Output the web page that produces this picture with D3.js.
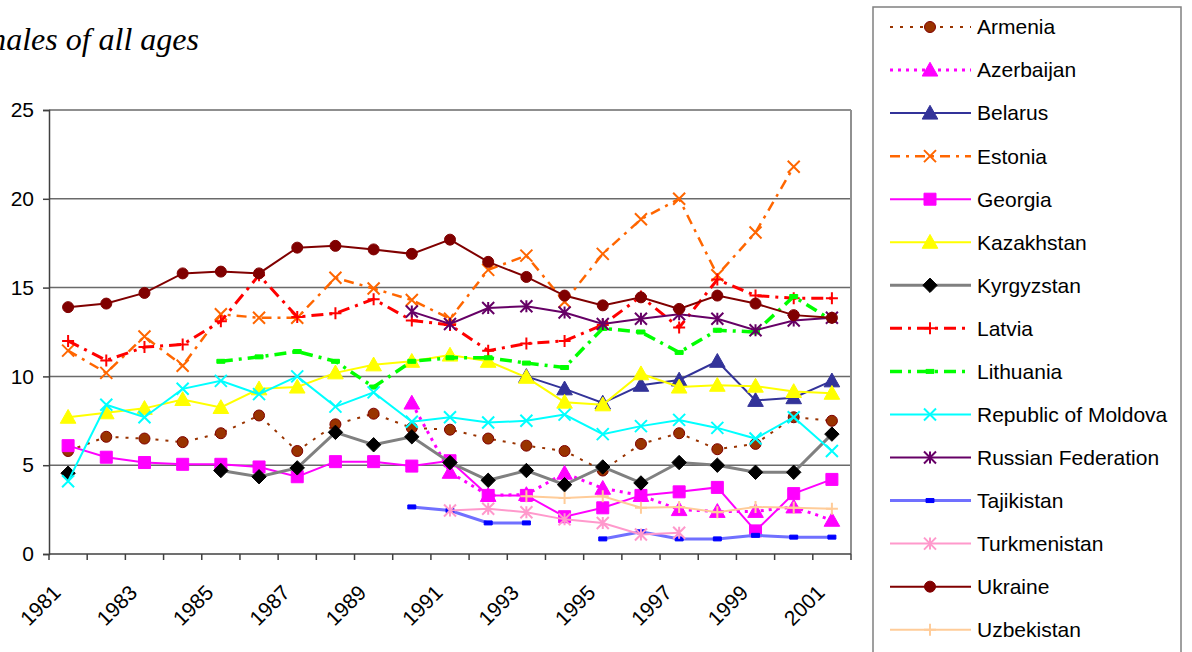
<!DOCTYPE html>
<html>
<head>
<meta charset="utf-8">
<script src="https://cdn.jsdelivr.net/npm/d3@7"></script>
<style>
  body { margin: 0; background: #fff; }
  svg { display: block; }
</style>
</head>
<body>
<script>
const width = 1192;
const height = 652;

// Years along the x axis, and the labelled ones.
const years = d3.range(1981, 2002);
const yearLabels = [1981, 1983, 1985, 1987, 1989, 1991, 1993, 1995, 1997, 1999, 2001];
const yTicks = [0, 5, 10, 15, 20, 25];

// Values per country, 1981..2001 (null = no data).
const armenia = [5.8, 6.6, 6.5, 6.3, 6.8, 7.8, 5.8, 7.3, 7.9, 7.1, 7.0, 6.5, 6.1, 5.8, 4.7, 6.2, 6.8, 5.9, 6.2, 7.7, 7.5];
const azerbaijan = [null, null, null, null, null, null, null, null, null, 8.5, 4.6, 3.3, 3.35, 4.55, 3.7, 3.3, 2.5, 2.4, 2.4, 2.65, 1.9];
const belarus = [null, null, null, null, null, null, null, null, null, null, null, null, 10.0, 9.3, 8.5, 9.5, 9.8, 10.85, 8.65, 8.8, 9.75];
const estonia = [11.45, 10.2, 12.25, 10.6, 13.5, 13.3, 13.3, 15.55, 14.95, 14.3, 13.25, 16.0, 16.8, 14.2, 16.9, 18.85, 20.0, 15.7, 18.1, 21.8, null];
const georgia = [6.1, 5.45, 5.15, 5.05, 5.05, 4.9, 4.35, 5.2, 5.2, 4.95, 5.25, 3.3, 3.3, 2.1, 2.6, 3.3, 3.5, 3.75, 1.3, 3.4, 4.2];
const kazakhstan = [7.7, 7.95, 8.2, 8.7, 8.25, 9.3, 9.4, 10.2, 10.65, 10.85, 11.2, 10.85, 9.95, 8.55, 8.4, 10.15, 9.4, 9.5, 9.45, 9.15, 9.05];
const kyrgyzstan = [4.55, null, null, null, 4.7, 4.35, 4.85, 6.85, 6.15, 6.6, 5.15, 4.15, 4.7, 3.9, 4.9, 4.0, 5.15, 5.0, 4.6, 4.6, 6.75];
const latvia = [12.0, 10.9, 11.65, 11.8, 13.1, 15.7, 13.35, 13.55, 14.35, 13.15, 12.9, 11.45, 11.85, 12.0, 12.9, 14.5, 12.75, 15.45, 14.55, 14.4, 14.4];
const lithuania = [null, null, null, null, 10.85, 11.1, 11.4, 10.85, 9.4, 10.85, 11.05, 11.05, 10.75, 10.5, 12.7, 12.5, 11.35, 12.6, 12.5, 14.5, 13.15];
const moldova = [4.1, 8.4, 7.7, 9.3, 9.75, 9.0, 10.0, 8.3, 9.1, 7.45, 7.7, 7.4, 7.5, 7.85, 6.75, 7.2, 7.55, 7.1, 6.5, 7.7, 5.8];
const russia = [null, null, null, null, null, null, null, null, null, 13.65, 12.95, 13.85, 13.95, 13.6, 12.95, 13.25, 13.5, 13.25, 12.6, 13.15, 13.3];
const tajikistan = [null, null, null, null, null, null, null, null, null, 2.65, 2.45, 1.75, 1.75, null, 0.85, 1.25, 0.85, 0.85, 1.05, 0.95, 0.95];
const turkmenistan = [null, null, null, null, null, null, null, null, null, null, 2.45, 2.55, 2.35, 1.95, 1.75, 1.1, 1.2, null, null, null, null];
const ukraine = [13.9, 14.1, 14.7, 15.8, 15.9, 15.8, 17.25, 17.35, 17.15, 16.9, 17.7, 16.45, 15.6, 14.55, 14.0, 14.45, 13.8, 14.55, 14.1, 13.45, 13.3];
const uzbekistan = [null, null, null, null, null, null, null, null, null, null, null, null, 3.25, 3.15, 3.25, 2.6, 2.65, 2.35, 2.65, 2.6, 2.55];

const countries = ['Armenia', 'Azerbaijan', 'Belarus', 'Estonia', 'Georgia', 'Kazakhstan', 'Kyrgyzstan', 'Latvia',
  'Lithuania', 'Republic of Moldova', 'Russian Federation', 'Tajikistan', 'Turkmenistan', 'Ukraine', 'Uzbekistan'];
const values = [armenia, azerbaijan, belarus, estonia, georgia, kazakhstan, kyrgyzstan, latvia,
  lithuania, moldova, russia, tajikistan, turkmenistan, ukraine, uzbekistan];

// Styles per series (line colour, dash, width, marker).
const styles = [
  { line: '#993300', dash: '3,7', w: 2, marker: 'circle', fill: '#993300', stroke: '#800000' },
  { line: '#ff00ff', dash: '3,5', w: 3, marker: 'triangle', fill: '#ff00ff', stroke: '#ff00ff' },
  { line: '#333399', dash: null, w: 2, marker: 'triangle', fill: '#333399', stroke: '#333399' },
  { line: '#ff6600', dash: '10,6,3,6', w: 2.5, marker: 'x', fill: 'none', stroke: '#ff6600' },
  { line: '#ff00ff', dash: null, w: 2, marker: 'square', fill: '#ff00ff', stroke: '#ff00ff' },
  { line: '#ffff00', dash: null, w: 2, marker: 'triangle', fill: '#ffff00', stroke: '#ffff00' },
  { line: '#808080', dash: null, w: 3, marker: 'diamond', fill: '#000000', stroke: '#000000' },
  { line: '#ff0000', dash: '12,6,3,6', w: 3, marker: 'plus', fill: 'none', stroke: '#ff0000' },
  { line: '#00ff00', dash: '12,6,3,6', w: 3.5, marker: 'dash', fill: '#00ff00', stroke: '#00ff00' },
  { line: '#00ffff', dash: null, w: 2, marker: 'x', fill: 'none', stroke: '#00ffff' },
  { line: '#660066', dash: null, w: 2, marker: 'star', fill: 'none', stroke: '#660066' },
  { line: '#7070ff', dash: null, w: 3, marker: 'dash', fill: '#0000ff', stroke: '#0000ff' },
  { line: '#ff99cc', dash: null, w: 2, marker: 'star', fill: 'none', stroke: '#ff99cc' },
  { line: '#800000', dash: null, w: 2, marker: 'circle', fill: '#800000', stroke: '#800000' },
  { line: '#ffcc99', dash: null, w: 2, marker: 'plus', fill: 'none', stroke: '#ffcc99' }
];

const margin = { top: 110, right: 342, bottom: 98, left: 49 };
const plotRight = 851;

let svg = d3
  .select('body')
  .append('svg')
  .attr('width', width)
  .attr('height', height)
  .style('font-family', 'Liberation Sans, Arial, sans-serif');

// Title, cut at the left edge as in the source.
svg
  .append('text')
  .attr('x', 199)
  .attr('y', 50)
  .attr('text-anchor', 'end')
  .style('font-family', 'Liberation Serif, Times New Roman, serif')
  .style('font-style', 'italic')
  .style('font-size', '32px')
  .text('males of all ages');

let xScale = d3
  .scaleBand()
  .domain(years)
  .range([margin.left, plotRight]);

let yScale = d3
  .scaleLinear()
  .domain([0, 25])
  .range([height - margin.bottom, margin.top]);

// Gridlines.
svg
  .append('g')
  .selectAll('line')
  .data(yTicks.filter((d) => d > 0))
  .join('line')
  .attr('x1', margin.left)
  .attr('x2', plotRight)
  .attr('y1', (d) => yScale(d))
  .attr('y2', (d) => yScale(d))
  .attr('stroke', '#6a6a6a')
  .attr('stroke-width', 1.5);

// Right border of the plot area.
svg
  .append('line')
  .attr('x1', plotRight)
  .attr('x2', plotRight)
  .attr('y1', yScale(25))
  .attr('y2', yScale(0))
  .attr('stroke', '#909090')
  .attr('stroke-width', 2);

// Left axis.
let leftAxis = d3.axisLeft(yScale).tickValues(yTicks).tickSize(6).tickPadding(9);
let leftContainer = svg
  .append('g')
  .attr('transform', `translate(${margin.left}, 0)`)
  .call(leftAxis);
leftContainer.select('.domain').attr('stroke', '#404040').attr('stroke-width', 1.5);
leftContainer.selectAll('.tick line').attr('stroke', '#404040').attr('stroke-width', 1.5);
leftContainer.selectAll('.tick text').style('font-size', '21px').attr('fill', '#000');

// Bottom axis: ticks at category boundaries.
let bottom = svg.append('g');
bottom
  .append('line')
  .attr('x1', margin.left)
  .attr('x2', plotRight)
  .attr('y1', yScale(0))
  .attr('y2', yScale(0))
  .attr('stroke', '#404040')
  .attr('stroke-width', 1.5);
bottom
  .selectAll('line.tick')
  .data(years.concat([2002]))
  .join('line')
  .attr('class', 'tick')
  .attr('x1', (d) => (d === 2002 ? plotRight : xScale(d)))
  .attr('x2', (d) => (d === 2002 ? plotRight : xScale(d)))
  .attr('y1', yScale(0))
  .attr('y2', yScale(0) + 6)
  .attr('stroke', '#404040')
  .attr('stroke-width', 1.5);
bottom
  .selectAll('text')
  .data(yearLabels)
  .join('text')
  .attr('text-anchor', 'end')
  .attr('transform', (d) => `translate(${xScale(d) + xScale.bandwidth() / 2 - 6}, 594) rotate(-45)`)
  .style('font-size', '21px')
  .text((d) => d);

// Marker shapes.
function markerPath(type, size) {
  const s = size;
  switch (type) {
    case 'circle':
      return d3.symbol(d3.symbolCircle, 95)();
    case 'triangle':
      return `M0,${-s * 0.65}L${s * 0.65},${s * 0.5}L${-s * 0.65},${s * 0.5}Z`;
    case 'square':
      return `M${-s / 2},${-s / 2}h${s}v${s}h${-s}Z`;
    case 'diamond':
      return `M0,${-s * 0.6}L${s * 0.6},0L0,${s * 0.6}L${-s * 0.6},0Z`;
    case 'x':
      return `M${-s / 2},${-s / 2}L${s / 2},${s / 2}M${s / 2},${-s / 2}L${-s / 2},${s / 2}`;
    case 'plus':
      return `M${-s / 2},0H${s / 2}M0,${-s / 2}V${s / 2}`;
    case 'star':
      return `M${-s / 2},${-s / 2}L${s / 2},${s / 2}M${s / 2},${-s / 2}L${-s / 2},${s / 2}M0,${-s / 2}V${s / 2}`;
    case 'dash':
      return `M-4,-2h8v4h-8Z`;
  }
}

let line = d3
  .line()
  .defined((d) => d.v !== null)
  .x((d) => xScale(d.year) + xScale.bandwidth() / 2)
  .y((d) => yScale(d.v));

let seriesG = svg.append('g');
countries.forEach((name, i) => {
  const st = styles[i];
  const pts = years.map((year, j) => ({ year: year, v: values[i][j] }));
  let g = seriesG.append('g');
  g.append('path')
    .datum(pts)
    .attr('d', line)
    .attr('fill', 'none')
    .attr('stroke', st.line)
    .attr('stroke-width', st.w)
    .attr('stroke-dasharray', st.dash);
  g.selectAll('path.m')
    .data(pts.filter((d) => d.v !== null))
    .join('path')
    .attr('class', 'm')
    .attr('transform', (d) => `translate(${xScale(d.year) + xScale.bandwidth() / 2}, ${yScale(d.v)})`)
    .attr('d', markerPath(st.marker, 12))
    .attr('fill', st.fill)
    .attr('stroke', st.stroke)
    .attr('stroke-width', st.fill === 'none' ? 2 : 1);
});

// Legend.
let legend = svg.append('g');
legend
  .append('rect')
  .attr('x', 873)
  .attr('y', 7)
  .attr('width', 308)
  .attr('height', 660)
  .attr('fill', '#fff')
  .attr('stroke', '#808080')
  .attr('stroke-width', 1.5);

let item = legend
  .selectAll('g.item')
  .data(countries)
  .join('g')
  .attr('class', 'item')
  .attr('transform', (d, i) => `translate(0, ${27 + i * 43.05})`);
item
  .append('line')
  .attr('x1', 890)
  .attr('x2', 971)
  .attr('stroke', (d, i) => styles[i].line)
  .attr('stroke-width', (d, i) => styles[i].w)
  .attr('stroke-dasharray', (d, i) => styles[i].dash);
item
  .append('path')
  .attr('transform', 'translate(930, 0)')
  .attr('d', (d, i) => markerPath(styles[i].marker, 12))
  .attr('fill', (d, i) => styles[i].fill)
  .attr('stroke', (d, i) => styles[i].stroke)
  .attr('stroke-width', (d, i) => (styles[i].fill === 'none' ? 2 : 1));
item
  .append('text')
  .attr('x', 977)
  .attr('dy', '0.35em')
  .style('font-size', '21px')
  .text((d) => d);
</script>
</body>
</html>
